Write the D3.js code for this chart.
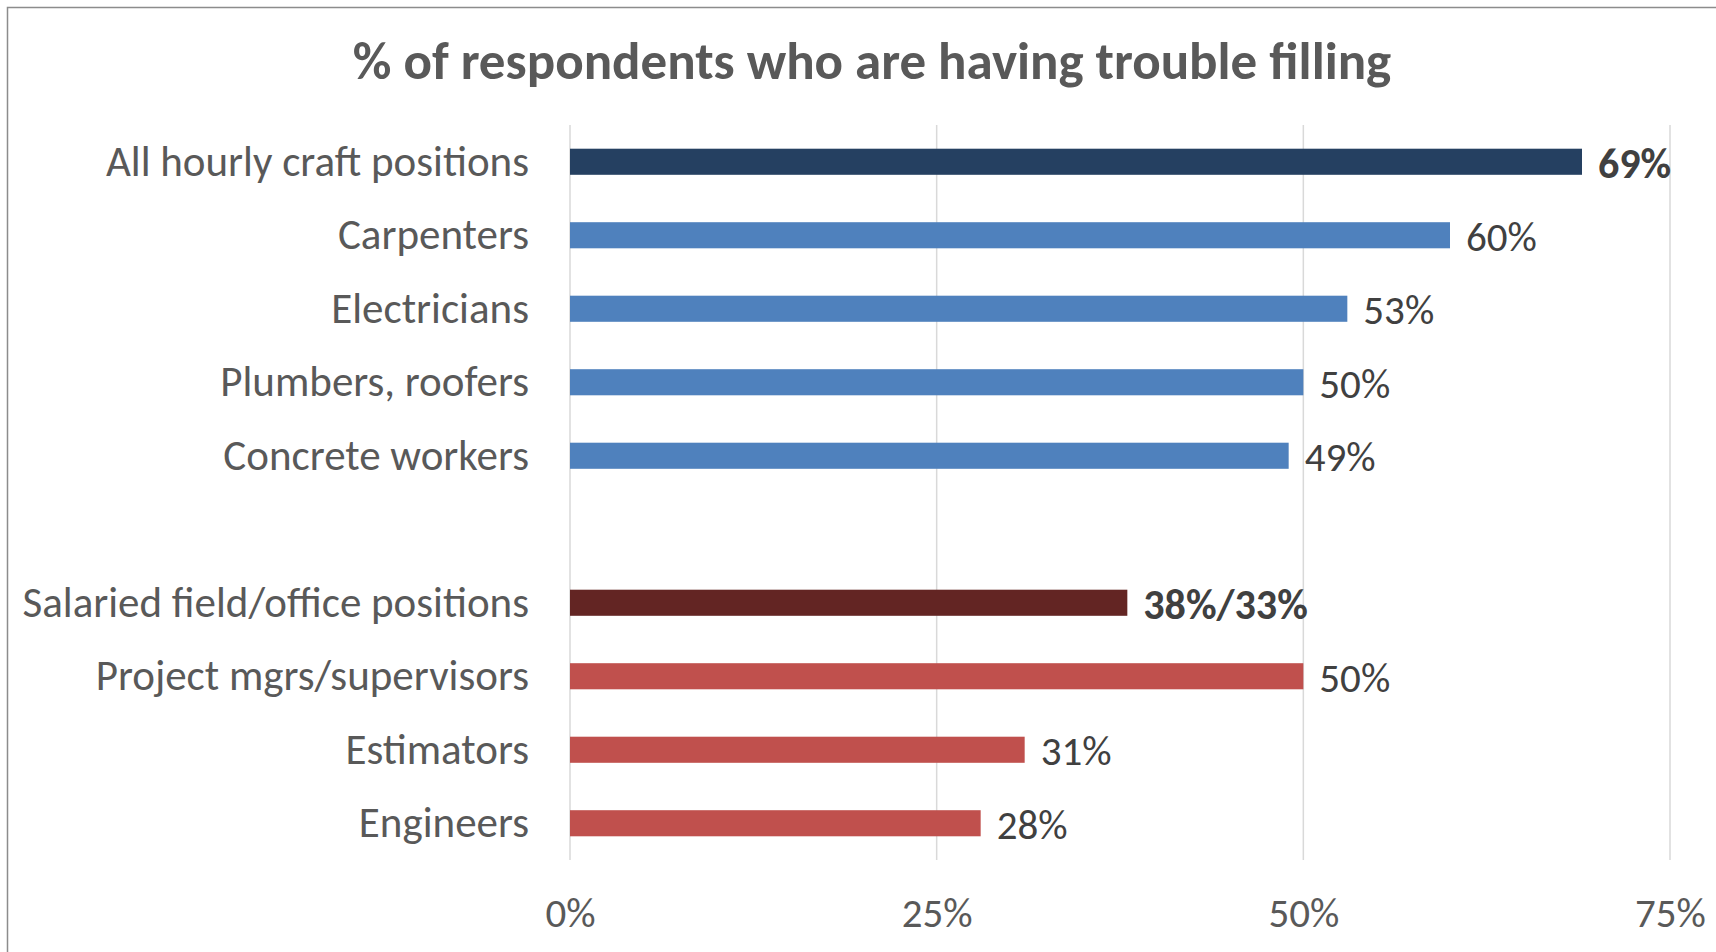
<!DOCTYPE html>
<html>
<head>
<meta charset="utf-8">
<script src="https://cdn.jsdelivr.net/npm/d3@7"></script>
<style>
  html, body { margin: 0; padding: 0; background: #ffffff; }
  svg { display: block; }
  text { font-family: Carlito, Lato, "Open Sans", sans-serif; }
</style>
</head>
<body>
<svg id="chart" width="1716" height="952"></svg>
<script>
// ---- data ----
const title = "% of respondents who are having trouble filling";
const categories = [
  "All hourly craft positions",
  "Carpenters",
  "Electricians",
  "Plumbers, roofers",
  "Concrete workers",
  " ",
  "Salaried field/office positions",
  "Project mgrs/supervisors",
  "Estimators",
  "Engineers"
];
const values = [69, 60, 53, 50, 49, null, 38, 50, 31, 28];
const valueLabels = ["69%", "60%", "53%", "50%", "49%", "", "38%/33%", "50%", "31%", "28%"];
const boldLabels = [true, false, false, false, false, false, true, false, false, false];
const barColors = ["#254061", "#4F81BD", "#4F81BD", "#4F81BD", "#4F81BD", "none",
                   "#632523", "#C0504D", "#C0504D", "#C0504D"];
const tickValues = [0, 25, 50, 75];
const tickLabels = ["0%", "25%", "50%", "75%"];

// ---- layout ----
const W = 1716, H = 952;
const plot = { left: 570, right: 1670, top: 125, bottom: 860 };

const svg = d3.select("#chart");

// frame (top and left edges visible)
svg.append("path")
  .attr("d", `M7.5,${H} V7.5 H${W}`)
  .attr("fill", "none")
  .attr("stroke", "#8c8c8c")
  .attr("stroke-width", 1.5);

const x = d3.scaleLinear().domain([0, 75]).range([plot.left, plot.right]);
const y = d3.scaleBand().domain(categories).range([plot.top, plot.bottom])
  .paddingInner(0.645).paddingOuter(0.3225);

// title
svg.append("text")
  .attr("x", 872)
  .attr("y", 79)
  .attr("text-anchor", "middle")
  .attr("font-size", 53)
  .attr("font-weight", "bold")
  .attr("fill", "#595959")
  .text(title);

// gridlines
svg.append("g")
  .selectAll("line")
  .data(tickValues)
  .join("line")
  .attr("x1", d => x(d)).attr("x2", d => x(d))
  .attr("y1", plot.top).attr("y2", plot.bottom)
  .attr("stroke", "#D9D9D9")
  .attr("stroke-width", 1.5);

// x axis tick labels
const xAxis = d3.axisBottom(x).tickValues(tickValues)
  .tickFormat((d, i) => tickLabels[i]).tickSize(0).tickPadding(0);
const gx = svg.append("g").attr("transform", `translate(0, ${plot.bottom})`).call(xAxis);
gx.select(".domain").remove();
gx.selectAll("text")
  .attr("y", 0)
  .attr("dy", 0)
  .attr("transform", "translate(0, 67)")
  .attr("font-size", 41)
  .attr("font-family", "Carlito, Lato, sans-serif")
  .attr("fill", "#595959");

// y axis category labels
const yAxis = d3.axisLeft(y).tickSize(0).tickPadding(41);
const gy = svg.append("g").attr("transform", `translate(${plot.left}, 0)`).call(yAxis);
gy.select(".domain").remove();
gy.selectAll("text")
  .attr("dy", "0.33em")
  .attr("font-size", 43)
  .attr("font-family", "Carlito, Lato, sans-serif")
  .attr("fill", "#595959");

// bars
const rows = categories.map((c, i) => ({ c, v: values[i], label: valueLabels[i], bold: boldLabels[i], color: barColors[i] }))
  .filter(d => d.v !== null);

svg.append("g")
  .selectAll("rect")
  .data(rows)
  .join("rect")
  .attr("x", x(0))
  .attr("y", d => y(d.c))
  .attr("width", d => x(d.v) - x(0))
  .attr("height", y.bandwidth())
  .attr("fill", d => d.color);

// value labels
svg.append("g")
  .selectAll("text")
  .data(rows)
  .join("text")
  .attr("x", d => x(d.v) + 16)
  .attr("y", d => y(d.c) + y.bandwidth() / 2)
  .attr("dy", "0.38em")
  .attr("font-size", d => d.bold ? 42 : 41)
  .attr("font-weight", d => d.bold ? "bold" : "normal")
  .attr("fill", "#404040")
  .text(d => d.label);
</script>
</body>
</html>
